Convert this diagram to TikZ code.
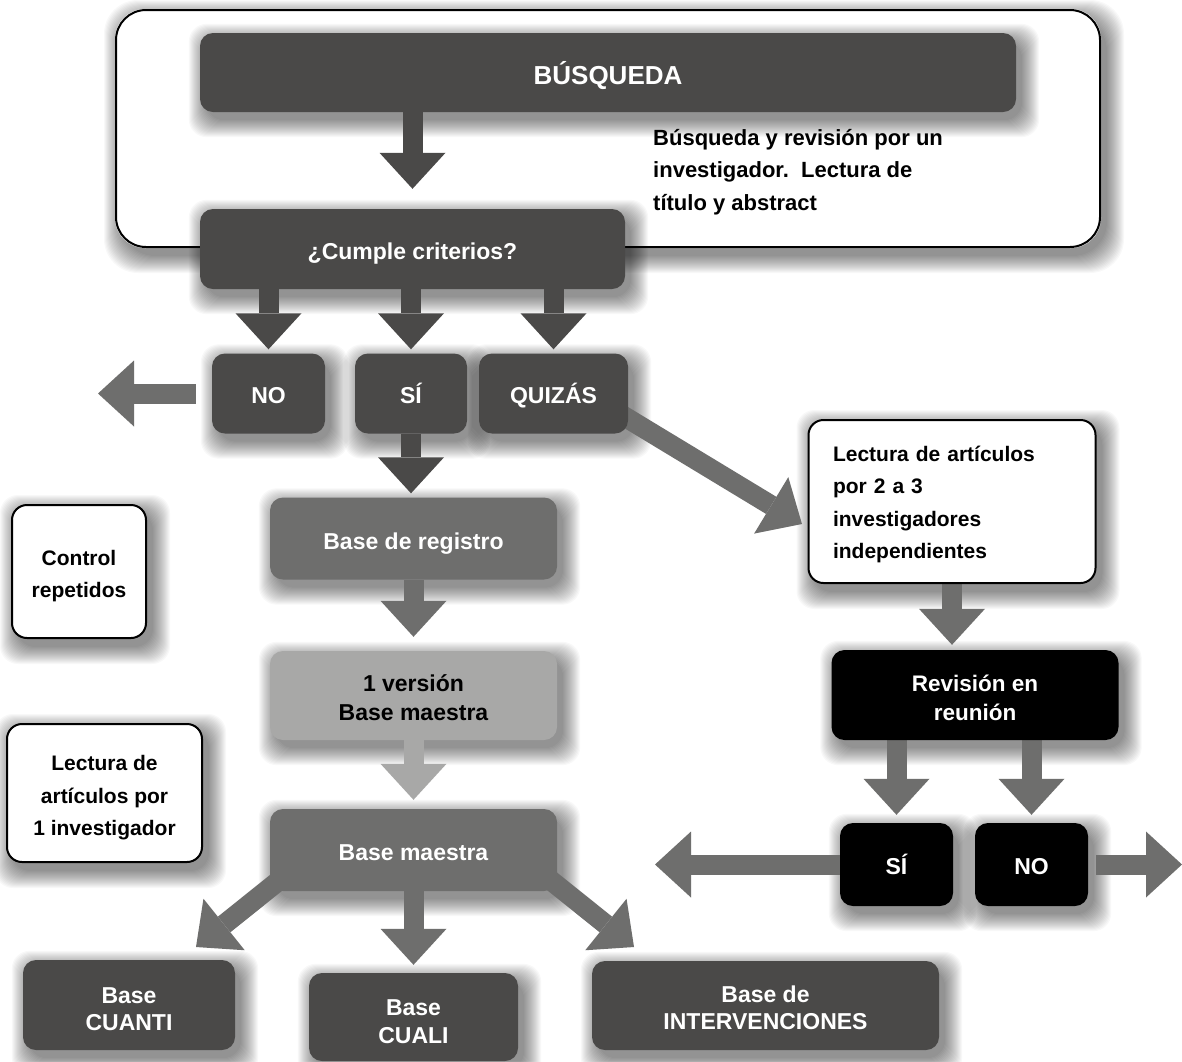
\documentclass[tikz,border=0pt]{standalone}
\usepackage{fontspec}
\setmainfont{Liberation Sans}
\usetikzlibrary{arrows.meta}
\pgfdeclarelayer{bg}
\pgfdeclarelayer{shadows}
\pgfdeclarelayer{arrows}
\pgfsetlayers{bg,shadows,arrows,main}
\definecolor{dgray}{HTML}{4A4948}
\definecolor{mgray}{HTML}{6E6E6D}
\definecolor{lgray}{HTML}{A8A8A7}
\newcommand{\fs}[2]{\fontsize{#1}{#2}\selectfont\bfseries}
\begin{document}
\begin{tikzpicture}[x=1pt,y=-1pt,
  basebox/.style={rounded corners=13pt, inner sep=0pt, align=center, text=white, text depth=0pt},
  th/.style={text height=#1pt},
  dbox/.style={basebox, fill=dgray},
  gbox/.style={basebox, fill=mgray},
  lbox/.style={basebox, fill=lgray, text=black},
  kbox/.style={basebox, fill=black},
  wbox/.style={basebox, fill=white, draw=black, line width=2pt, text=black, rounded corners=15pt},
  shadlayer/.style={fill=black, opacity=0.027},
  arr/.style={line width=20pt, line cap=butt, -{Triangle[width=66pt,length=36pt,line width=0pt]}},
  darr/.style={arr, draw=dgray},
  garr/.style={arr, draw=mgray},
  larr/.style={arr, draw=lgray}]
\useasboundingbox (0,0) rectangle (1182,1061);
\begin{pgfonlayer}{bg}
  \fill[white] (0,0) rectangle (1182,1061);
\end{pgfonlayer}

% container (outline only; its white fill and shadow are on the shadow layer)
\node[draw=black, line width=2pt, rounded corners=30pt, inner sep=0pt, minimum width=984pt, minimum height=237pt] (cont) at (608,128.5) {};

% boxes
\node[dbox, th=23.5, font=\fs{26}{30}, minimum width=816pt, minimum height=79pt] (busq) at (608,72.5) {BÚSQUEDA};
\node[anchor=north west, inner sep=0pt, align=left, font=\fs{22}{32.5}] (desc) at (653,129) {Búsqueda y revisión por un\\investigador.\ \ Lectura de\\título y abstract};
\node[dbox, th=20.5, font=\fs{23}{27}, minimum width=425pt, minimum height=80pt] (cumple) at (412.5,249) {¿Cumple criterios?};
\node[dbox, th=19.5, font=\fs{23}{27}, minimum width=113pt, minimum height=80pt] (no) at (268.5,393.5) {NO};
\node[dbox, th=19.5, font=\fs{23}{27}, minimum width=112pt, minimum height=80pt] (si) at (411,393.5) {SÍ};
\node[dbox, th=19.5, font=\fs{23}{27}, minimum width=149pt, minimum height=80pt] (quizas) at (553.5,393.5) {QUIZÁS};
\node[wbox, text height=15pt, text depth=96pt, font=\fs{21}{32.5}, align=left, text width=238pt, minimum width=287pt, minimum height=163pt] (lect) at (952,501.5) {Lectura de artículos\\por 2 a 3\\investigadores\\independientes};
\node[kbox, th=50, font=\fs{22.5}{29}, minimum width=287pt, minimum height=90pt] (revision) at (975,695) {Revisión en\\reunión};
\node[kbox, th=19.5, font=\fs{23}{27}, minimum width=113pt, minimum height=83pt] (si2) at (896.5,864.5) {SÍ};
\node[kbox, th=19.5, font=\fs{23}{27}, minimum width=113pt, minimum height=83pt] (no2) at (1031.5,864.5) {NO};
\node[wbox, th=52, font=\fs{21}{32}, minimum width=134pt, minimum height=133pt] (ctrl) at (79,571.5) {Control\\repetidos};
\node[gbox, th=21.5, font=\fs{23}{27}, minimum width=287pt, minimum height=82pt] (registro) at (413.5,538.5) {Base de registro};
\node[lbox, th=49.5, font=\fs{23}{29}, minimum width=287pt, minimum height=89pt] (version) at (413.5,695.5) {1 versión\\Base maestra};
\node[wbox, th=85, font=\fs{21}{32.5}, minimum width=195pt, minimum height=138pt] (lect1) at (104.5,793) {Lectura de\\artículos por\\1 investigador};
\node[gbox, th=20.5, font=\fs{23}{27}, minimum width=287pt, minimum height=82pt] (maestra) at (413.5,850) {Base maestra};
\node[dbox, th=50.5, font=\fs{23}{27}, minimum width=212pt, minimum height=90pt] (cuanti) at (129,1005) {Base\\CUANTI};
\node[dbox, th=52.5, font=\fs{23}{28}, minimum width=209pt, minimum height=88pt] (cuali) at (413.5,1017) {Base\\CUALI};
\node[dbox, th=47.5, font=\fs{23}{27}, minimum width=347pt, minimum height=89pt] (interv) at (765.5,1005.5) {Base de\\INTERVENCIONES};

% soft shadows (stacked translucent layers)
\begin{pgfonlayer}{shadows}
  \foreach \e in {0,...,17}
    \fill[shadlayer, rounded corners=34pt]
      ([shift={(6-\e,8+\e)}]cont.south west) rectangle ([shift={(6+\e,8-\e)}]cont.north east);
  \fill[white, rounded corners=30pt] (cont.south west) rectangle (cont.north east);
  \foreach \n in {busq,cumple,no,si,quizas,lect,revision,si2,no2,ctrl,registro,version,lect1,maestra,cuanti,cuali,interv}{
    \foreach \e in {0,...,17}
      \fill[shadlayer, rounded corners=18pt]
        ([shift={(6-\e,8+\e)}]\n.south west) rectangle ([shift={(6+\e,8-\e)}]\n.north east);
  }
\end{pgfonlayer}

% free ends
\coordinate (outL) at (98,393.5);
\coordinate (qtip) at (802,524);
\coordinate (outL2) at (655,864.5);
\coordinate (outR) at (1182,864.5);
\coordinate (tipL) at (196,947);
\coordinate (tipR) at (634,947);

% arrows
\begin{pgfonlayer}{arrows}
  \draw[darr, shorten >=20pt] (busq.south -| cumple.north) -- (cumple.north);
  \draw[darr, shorten >=4pt] (cumple.south -| no.north) -- (no.north);
  \draw[darr, shorten >=4pt] (cumple.south -| si.north) -- (si.north);
  \draw[darr, shorten >=4pt] (cumple.south -| quizas.north) -- (quizas.north);
  \draw[garr] ([xshift=-16pt]no.west) -- (outL);
  \draw[darr, shorten >=4pt] (si.south) -- (si.south |- registro.north);
  \draw[garr] ([shift={(61,17)}]quizas.center) -- (qtip);
  \draw[garr, shorten >=5pt] (lect.south) -- (lect.south |- revision.north);
  \draw[garr, shorten >=8pt] (revision.south -| si2.north) -- (si2.north);
  \draw[garr, shorten >=8pt] (revision.south -| no2.north) -- (no2.north);
  \draw[garr] (si2.west) -- (outL2);
  \draw[garr] ([xshift=8pt]no2.east) -- (outR);
  \draw[garr, shorten >=14pt] (registro.south) -- (version.north);
  \draw[larr, shorten >=9pt] (version.south) -- (maestra.north);
  \draw[garr, shorten >=8pt] (maestra.south) -- (cuali.north);
  \draw[garr] ([shift={(-61.5,-28)}]maestra.center) -- (tipL);
  \draw[garr] ([shift={(64.5,-28)}]maestra.center) -- (tipR);
\end{pgfonlayer}
\end{tikzpicture}
\end{document}
